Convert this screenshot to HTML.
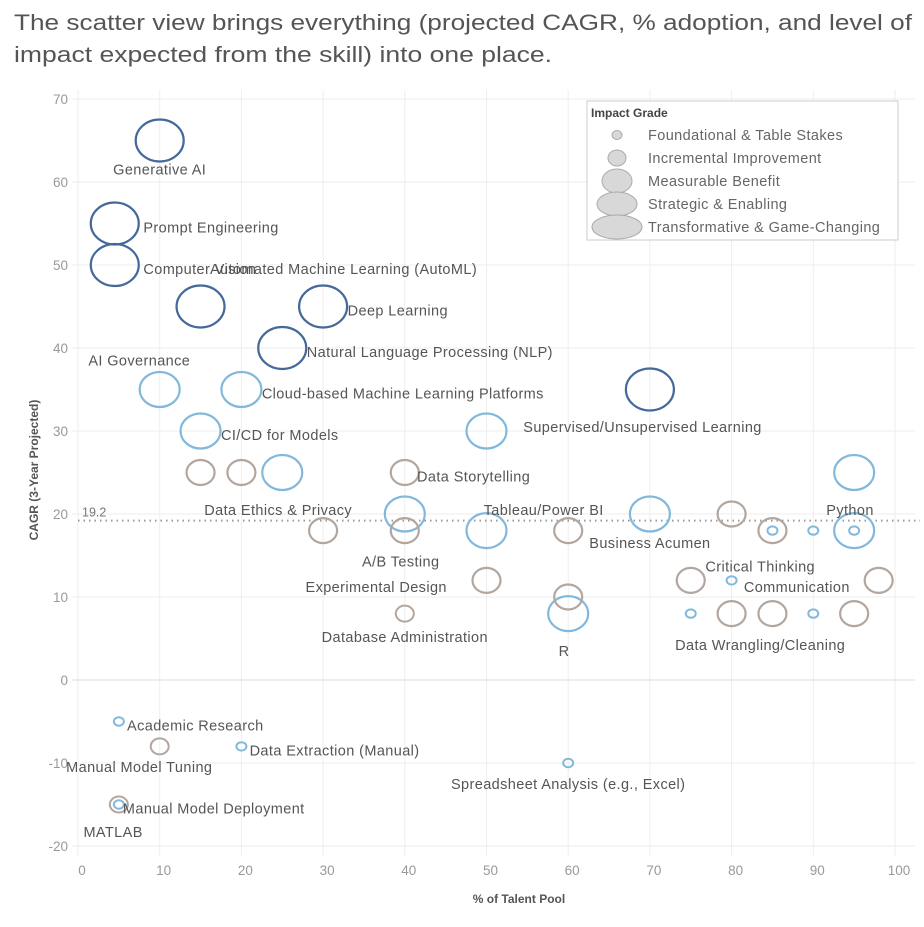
<!DOCTYPE html>
<html><head><meta charset="utf-8"><style>
body{margin:0;background:#fff;width:924px;height:922px;overflow:hidden;font-family:"Liberation Sans",sans-serif}
svg text{font-family:"Liberation Sans",sans-serif}
</style></head><body>
<svg id="c" width="924" height="922">
<text x="14" y="30" font-size="22" fill="#555" textLength="898" lengthAdjust="spacingAndGlyphs">The scatter view brings everything (projected CAGR, % adoption, and level of</text>
<text x="14" y="62" font-size="22" fill="#555" textLength="538" lengthAdjust="spacingAndGlyphs">impact expected from the skill) into one place.</text>
<g id="grid"></g><g id="marks"></g><g id="labels"></g>
<text transform="translate(38,470) rotate(-90)" text-anchor="middle" font-size="12" fill="#555" font-weight="bold">CAGR (3-Year Projected)</text>
<text x="519" y="903" text-anchor="middle" font-size="12" fill="#555" font-weight="bold">% of Talent Pool</text>
<g>
<rect x="587" y="101" width="311" height="139" fill="#fff" stroke="#ccc"/>
<text x="591" y="117" font-size="12" fill="#444" font-weight="bold">Impact Grade</text>
<g id="leg"></g>
</g>
</svg>
<script>
const xTicks=[0,10,20,30,40,50,60,70,80,90,100];
const yTicks=[-20,-10,0,10,20,30,40,50,60,70];
const refValue=19.2;
const ptX=[10,4.5,4.5,15,30,25,70, 10,20,15,25,50,40,50,70,60,95,95, 15,20,40,30,40,60,80,85,75,98,50,60,80,85,95, 40,10,5, 85,90,95,80,75,90,5,20,60,5];
const ptY=[65,55,50,45,45,40,35, 35,35,30,25,30,20,18,20,8,25,18, 25,25,25,18,18,18,20,18,12,12,12,10,8,8,8, 8,-8,-15, 18,18,18,12,8,8,-5,-8,-10,-15];
const ptGrade=[4,4,4,4,4,4,4, 2,2,2,2,2,2,2,2,2,2,2, 1,1,1,1,1,1,1,1,1,1,1,1,1,1,1, 0.5,0.5,0.5, 0,0,0,0,0,0,0,0,0,0];
const ptColor=["d","d","d","d","d","d","d","l","l","l","l","l","l","l","l","l","l","l","b","b","b","b","b","b","b","b","b","b","b","b","b","b","b","b","b","b","l","l","l","l","l","l","l","l","l","l"];
const labText=["Generative AI","Prompt Engineering","Computer Vision","Automated Machine Learning (AutoML)","Deep Learning","Natural Language Processing (NLP)","AI Governance","Cloud-based Machine Learning Platforms","CI/CD for Models","Supervised/Unsupervised Learning","Data Storytelling","Data Ethics & Privacy","Tableau/Power BI","A/B Testing","Business Acumen","Python","Critical Thinking","Communication","Experimental Design","Database Administration","R","Data Wrangling/Cleaning","Academic Research","Data Extraction (Manual)","Manual Model Tuning","Spreadsheet Analysis (e.g., Excel)","Manual Model Deployment","MATLAB"];
const labX=[10,8,8,32.5,33,28,7.5,22.5,17.5,54.5,41.5,24.5,57,39.5,70,94.5,83.5,81.5,36.5,40,59.5,83.5,6,21,7.5,60,5.5,4.3];
const labY=[61.5,54.5,49.5,49.5,44.5,39.5,38.5,34.5,29.5,30.5,24.5,20.5,20.5,14.3,16.5,20.5,13.7,11.2,11.2,5.2,3.5,4.2,-5.5,-8.5,-10.5,-12.5,-15.5,-18.3];
const labAnchor=["middle","start","start","middle","start","start","middle","start","start","start","start","middle","middle","middle","middle","middle","middle","start","middle","middle","middle","middle","start","start","middle","middle","start","middle"];
const X0=78,XS=8.17,Y0=680,YS=8.3;
const sx=v=>X0+v*XS, sy=v=>Y0-v*YS;
const NS="http://www.w3.org/2000/svg";
function mk(t,a,p){const e=document.createElementNS(NS,t);for(const k in a)e.setAttribute(k,a[k]);p.appendChild(e);return e;}
const grid=document.getElementById('grid');
xTicks.forEach(t=>{
 const l=mk('line',{x1:sx(t),x2:sx(t),y1:90,y2:856,stroke:'#eee'},grid);
 
 
 const tx=mk('text',{x:sx(t)+4,y:875,'text-anchor':'middle','font-size':13.5,fill:'#999'},grid);tx.textContent=t;
 
 
});
yTicks.forEach(t=>{
 const l=mk('line',{x1:72,x2:915,y1:sy(t),y2:sy(t),stroke:'#eee'},grid);
 
 
 const tx=mk('text',{x:68,y:sy(t)+5,'text-anchor':'end','font-size':13.5,fill:'#999'},grid);tx.textContent=t;
 
 
});
const ax=mk('line',{x1:72,x2:915,y1:sy(0),y2:sy(0),stroke:'#ddd'},grid);


const rl=mk('line',{x1:78,x2:920,y1:sy(refValue),y2:sy(refValue),stroke:'#999','stroke-width':2,'stroke-dasharray':'1.5 4'},grid);


const rt=mk('text',{x:82,y:sy(refValue)-4,'font-size':12.5,fill:'#777'},grid);rt.textContent=refValue;


const SZ={4:[24,21],2:[20,17.5],1:[14,12.5],0.5:[9,8],0:[5,4.2]};
const COL={d:'#45699a',l:'#82b8dc',b:'#b3a69e'};
const marks=document.getElementById('marks');
const order=ptX.map((_,i)=>i).sort((a,b)=>ptGrade[b]-ptGrade[a]);
order.forEach(i=>{
 const s=SZ[ptGrade[i]];
 const e=mk('ellipse',{cx:sx(ptX[i]),cy:sy(ptY[i]),rx:s[0],ry:s[1],fill:'none',stroke:COL[ptColor[i]],'stroke-width':ptGrade[i]>=1?2.2:2},marks);
 
 
});
const labels=document.getElementById('labels');
labText.forEach((t,i)=>{
 const e=mk('text',{x:sx(labX[i]),y:sy(labY[i])+5,'text-anchor':labAnchor[i],'font-size':14.5,'letter-spacing':0.4,fill:'#555'},labels);e.textContent=t;
 
 
});
const legText=["Foundational & Table Stakes","Incremental Improvement","Measurable Benefit","Strategic & Enabling","Transformative & Game-Changing"];
const legR=[[5,4.5],[9,8],[15,12],[20,12],[25,12]];
const leg=document.getElementById('leg');
legText.forEach((t,i)=>{
 const y=135+i*23;
 const e=mk('ellipse',{cx:617,cy:y,rx:legR[i][0],ry:legR[i][1],fill:'#d8d8d8',stroke:'#aaa'},leg);
 
 
 const tx=mk('text',{x:648,y:y+5,'font-size':14.5,'letter-spacing':0.4,fill:'#666'},leg);tx.textContent=t;
 
 
});
</script>
</body></html>
